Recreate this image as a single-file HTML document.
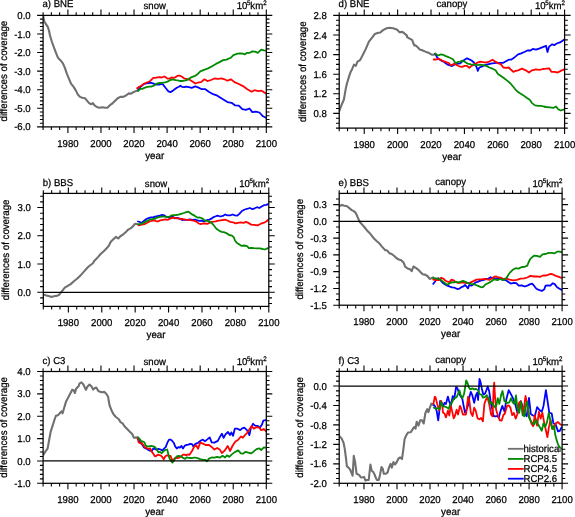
<!DOCTYPE html>
<html><head><meta charset="utf-8"><title>coverage</title>
<style>html,body{margin:0;padding:0;background:#fff;width:575px;height:517px;overflow:hidden}
svg{display:block;font-family:"Liberation Sans",sans-serif;-webkit-font-smoothing:antialiased;text-rendering:geometricPrecision}
.t{opacity:0.999}</style></head>
<body><svg width="575" height="517" viewBox="0 0 575 517">
<defs><clipPath id="cp0"><rect x="43.10" y="15.40" width="223.20" height="111.50"/></clipPath><clipPath id="cp1"><rect x="339.20" y="15.40" width="225.40" height="112.70"/></clipPath><clipPath id="cp2"><rect x="43.30" y="193.40" width="225.50" height="113.00"/></clipPath><clipPath id="cp3"><rect x="339.20" y="193.40" width="222.90" height="111.80"/></clipPath><clipPath id="cp4"><rect x="43.10" y="371.50" width="223.20" height="111.80"/></clipPath><clipPath id="cp5"><rect x="339.20" y="371.40" width="222.90" height="111.90"/></clipPath></defs>
<rect width="575" height="517" fill="#fff"/>
<g fill="#000" class="t">
<g clip-path="url(#cp0)">
<polyline fill="none" stroke="#707070" stroke-width="2.10" stroke-linejoin="round" stroke-linecap="round" points="43.3,16.3 43.4,17.5 44.3,21.5 46.1,24.4 47.8,26.8 49.0,30.8 50.1,36.0 51.9,41.8 53.6,46.5 55.3,51.1 57.1,55.7 58.2,58.1 60.6,60.4 62.9,63.3 64.8,67.7 66.9,73.9 69.0,78.8 71.0,83.7 73.8,87.1 75.9,90.6 78.0,94.8 80.1,96.9 82.2,97.8 85.0,98.3 87.0,100.6 89.1,103.1 91.2,104.2 92.9,103.1 94.3,105.2 96.8,107.0 99.6,107.7 102.3,107.3 105.1,107.7 107.6,107.6 110.0,105.2 112.8,103.1 115.6,100.3 117.7,98.3 120.4,96.9 123.2,96.9 126.0,95.5 128.8,93.4 130.9,93.7 133.7,92.0 136.4,90.9 138.2,90.3"/>
<polyline fill="none" stroke="#0000ff" stroke-width="1.80" stroke-linejoin="round" stroke-linecap="round" points="138.2,89.8 140.3,87.2 142.3,85.4 144.4,83.8 146.5,83.4 148.6,83.0 150.7,82.7 152.8,83.4 154.9,84.1 157.0,84.6 159.0,84.6 161.1,84.1 162.7,84.1 164.3,86.2 166.3,88.8 168.4,91.4 170.5,92.1 172.6,90.9 174.7,89.3 176.8,87.7 178.9,86.7 180.4,85.7 182.0,86.9 184.1,87.2 186.2,86.6 188.9,87.1 191.7,87.8 195.3,86.4 198.1,87.4 201.7,89.2 205.3,89.2 208.8,91.7 213.1,94.2 217.4,95.7 221.7,98.5 227.4,102.1 231.6,102.8 235.2,105.4 238.8,105.6 242.3,109.2 245.9,109.9 249.5,108.5 252.3,112.1 255.9,111.6 259.4,112.5 263.0,116.3 265.9,117.8"/>
<polyline fill="none" stroke="#ff0000" stroke-width="1.80" stroke-linejoin="round" stroke-linecap="round" points="137.1,88.3 139.2,86.7 141.3,85.7 143.4,84.1 145.5,83.0 148.1,82.0 150.2,81.0 151.7,79.4 153.3,77.8 155.4,77.8 157.5,77.3 159.6,77.1 161.7,77.5 164.3,76.5 165.8,77.3 167.4,78.6 169.5,78.6 171.6,77.5 173.7,77.8 175.7,77.1 177.8,75.7 179.9,75.7 182.0,76.8 184.1,78.3 186.1,79.0 188.9,79.3 192.4,81.4 195.3,83.5 198.1,82.5 201.0,82.1 204.5,79.3 207.4,81.1 211.0,80.0 214.5,78.5 218.1,78.8 221.7,78.3 224.5,79.3 227.4,80.7 230.9,79.3 234.5,82.1 238.8,84.0 243.0,86.1 247.3,89.2 251.6,91.7 254.5,90.2 258.0,91.1 261.6,90.7 265.9,93.5"/>
<polyline fill="none" stroke="#008a00" stroke-width="1.80" stroke-linejoin="round" stroke-linecap="round" points="138.2,90.9 140.3,88.8 142.3,88.8 144.4,87.9 146.5,87.2 149.1,86.7 151.7,86.5 153.8,85.7 155.4,84.6 157.5,83.4 160.1,83.0 162.7,82.7 165.3,82.3 167.4,81.7 169.5,80.4 171.6,79.6 173.7,79.6 175.7,80.1 177.8,80.4 179.9,81.0 182.0,81.0 184.1,80.7 186.1,80.4 188.6,79.1 191.0,77.4 194.6,76.2 197.4,74.3 200.3,71.4 203.3,70.1 207.5,68.6 211.7,66.5 215.9,63.9 219.5,62.1 223.2,60.1 226.6,59.6 230.7,57.8 233.4,55.1 237.5,53.7 240.2,53.3 242.9,53.7 244.9,54.4 247.0,52.8 249.7,52.8 252.4,51.4 255.1,51.7 257.8,52.8 261.2,49.7 263.9,50.3 266.0,50.6"/>
</g>
<rect x="43.10" y="15.40" width="223.20" height="111.50" fill="none" stroke="#000" stroke-width="1.25"/>
<path d="M43.10 126.90v3.20M43.10 15.40v-3.20M51.37 126.90v3.20M51.37 15.40v-3.20M59.63 126.90v3.20M59.63 15.40v-3.20M67.90 126.90v6.00M67.90 15.40v-6.00M76.17 126.90v3.20M76.17 15.40v-3.20M84.43 126.90v3.20M84.43 15.40v-3.20M92.70 126.90v3.20M92.70 15.40v-3.20M100.97 126.90v6.00M100.97 15.40v-6.00M109.23 126.90v3.20M109.23 15.40v-3.20M117.50 126.90v3.20M117.50 15.40v-3.20M125.77 126.90v3.20M125.77 15.40v-3.20M134.03 126.90v6.00M134.03 15.40v-6.00M142.30 126.90v3.20M142.30 15.40v-3.20M150.57 126.90v3.20M150.57 15.40v-3.20M158.83 126.90v3.20M158.83 15.40v-3.20M167.10 126.90v6.00M167.10 15.40v-6.00M175.37 126.90v3.20M175.37 15.40v-3.20M183.63 126.90v3.20M183.63 15.40v-3.20M191.90 126.90v3.20M191.90 15.40v-3.20M200.17 126.90v6.00M200.17 15.40v-6.00M208.43 126.90v3.20M208.43 15.40v-3.20M216.70 126.90v3.20M216.70 15.40v-3.20M224.97 126.90v3.20M224.97 15.40v-3.20M233.23 126.90v6.00M233.23 15.40v-6.00M241.50 126.90v3.20M241.50 15.40v-3.20M249.77 126.90v3.20M249.77 15.40v-3.20M258.03 126.90v3.20M258.03 15.40v-3.20M266.30 126.90v6.00M266.30 15.40v-6.00M43.10 126.90h-6.00M266.30 126.90h6.00M43.10 123.18h-3.20M266.30 123.18h3.20M43.10 119.47h-3.20M266.30 119.47h3.20M43.10 115.75h-3.20M266.30 115.75h3.20M43.10 112.03h-3.20M266.30 112.03h3.20M43.10 108.32h-6.00M266.30 108.32h6.00M43.10 104.60h-3.20M266.30 104.60h3.20M43.10 100.88h-3.20M266.30 100.88h3.20M43.10 97.17h-3.20M266.30 97.17h3.20M43.10 93.45h-3.20M266.30 93.45h3.20M43.10 89.73h-6.00M266.30 89.73h6.00M43.10 86.02h-3.20M266.30 86.02h3.20M43.10 82.30h-3.20M266.30 82.30h3.20M43.10 78.58h-3.20M266.30 78.58h3.20M43.10 74.87h-3.20M266.30 74.87h3.20M43.10 71.15h-6.00M266.30 71.15h6.00M43.10 67.43h-3.20M266.30 67.43h3.20M43.10 63.72h-3.20M266.30 63.72h3.20M43.10 60.00h-3.20M266.30 60.00h3.20M43.10 56.28h-3.20M266.30 56.28h3.20M43.10 52.57h-6.00M266.30 52.57h6.00M43.10 48.85h-3.20M266.30 48.85h3.20M43.10 45.13h-3.20M266.30 45.13h3.20M43.10 41.42h-3.20M266.30 41.42h3.20M43.10 37.70h-3.20M266.30 37.70h3.20M43.10 33.98h-6.00M266.30 33.98h6.00M43.10 30.27h-3.20M266.30 30.27h3.20M43.10 26.55h-3.20M266.30 26.55h3.20M43.10 22.83h-3.20M266.30 22.83h3.20M43.10 19.12h-3.20M266.30 19.12h3.20M43.10 15.40h-6.00M266.30 15.40h6.00" stroke="#000" stroke-width="1.10" fill="none"/>
<text transform="translate(67.90 146.90) scale(1.000 1.040)" font-size="9.60" text-anchor="middle" stroke="#000" stroke-width="0.25">1980</text>
<text transform="translate(100.97 146.90) scale(1.000 1.040)" font-size="9.60" text-anchor="middle" stroke="#000" stroke-width="0.25">2000</text>
<text transform="translate(134.03 146.90) scale(1.000 1.040)" font-size="9.60" text-anchor="middle" stroke="#000" stroke-width="0.25">2020</text>
<text transform="translate(167.10 146.90) scale(1.000 1.040)" font-size="9.60" text-anchor="middle" stroke="#000" stroke-width="0.25">2040</text>
<text transform="translate(200.17 146.90) scale(1.000 1.040)" font-size="9.60" text-anchor="middle" stroke="#000" stroke-width="0.25">2060</text>
<text transform="translate(233.23 146.90) scale(1.000 1.040)" font-size="9.60" text-anchor="middle" stroke="#000" stroke-width="0.25">2080</text>
<text transform="translate(266.30 146.90) scale(1.000 1.040)" font-size="9.60" text-anchor="middle" stroke="#000" stroke-width="0.25">2100</text>
<text transform="translate(30.70 18.98) scale(1.000 1.040)" font-size="9.60" text-anchor="end" stroke="#000" stroke-width="0.25">0.0</text>
<text transform="translate(30.70 37.56) scale(1.000 1.040)" font-size="9.60" text-anchor="end" stroke="#000" stroke-width="0.25">-1.0</text>
<text transform="translate(30.70 56.15) scale(1.000 1.040)" font-size="9.60" text-anchor="end" stroke="#000" stroke-width="0.25">-2.0</text>
<text transform="translate(30.70 74.73) scale(1.000 1.040)" font-size="9.60" text-anchor="end" stroke="#000" stroke-width="0.25">-3.0</text>
<text transform="translate(30.70 93.31) scale(1.000 1.040)" font-size="9.60" text-anchor="end" stroke="#000" stroke-width="0.25">-4.0</text>
<text transform="translate(30.70 111.90) scale(1.000 1.040)" font-size="9.60" text-anchor="end" stroke="#000" stroke-width="0.25">-5.0</text>
<text transform="translate(30.70 130.48) scale(1.000 1.040)" font-size="9.60" text-anchor="end" stroke="#000" stroke-width="0.25">-6.0</text>
<text transform="translate(42.50 6.90) scale(1.000 1.040)" font-size="9.60" stroke="#000" stroke-width="0.25">a) BNE</text>
<text transform="translate(154.70 8.80) scale(1.000 1.040)" font-size="9.60" text-anchor="middle" stroke="#000" stroke-width="0.25">snow</text>
<text transform="translate(266.60 8.90) scale(1.000 1.040)" font-size="9.60" text-anchor="end" stroke="#000" stroke-width="0.25">10<tspan font-size="6.2" dx="-0.5" dy="-3.9">5</tspan><tspan dy="3.9">km</tspan><tspan font-size="6.2" dy="-3.9">2</tspan></text>
<text transform="translate(154.70 158.70) scale(1.000 1.040)" font-size="9.80" text-anchor="middle" stroke="#000" stroke-width="0.25">year</text>
<text transform="translate(7.25 71.15) rotate(-90) scale(0.990 1.050)" font-size="9.80" text-anchor="middle" stroke="#000" stroke-width="0.25">differences of coverage</text>
<g clip-path="url(#cp1)">
<polyline fill="none" stroke="#707070" stroke-width="2.10" stroke-linejoin="round" stroke-linecap="round" points="339.4,111.0 340.1,108.8 341.2,105.9 342.4,103.0 343.9,99.5 344.7,94.9 345.9,87.9 347.0,83.3 348.8,77.4 350.5,72.2 352.3,68.7 354.0,64.7 355.8,65.8 357.5,61.7 359.3,60.6 360.3,59.7 362.5,55.5 365.7,49.1 368.9,41.7 373.1,36.3 374.8,33.9 377.5,33.0 380.3,32.5 383.0,30.1 386.7,28.3 389.5,27.8 393.1,28.3 396.8,29.6 399.6,32.3 402.3,31.9 404.2,33.2 406.9,35.6 407.1,37.1 409.7,38.7 412.3,40.2 413.3,43.3 414.4,45.4 415.4,45.2 417.5,47.0 419.6,49.4 421.7,50.1 423.8,50.9 425.9,51.9 428.0,52.5 430.0,53.6 432.1,54.8 433.7,54.8 435.3,53.6"/>
<polyline fill="none" stroke="#0000ff" stroke-width="1.80" stroke-linejoin="round" stroke-linecap="round" points="435.3,53.8 436.3,55.9 437.3,57.7 439.4,59.5 441.5,60.6 443.6,61.6 445.7,63.2 447.8,64.7 449.9,65.5 452.0,66.1 454.0,64.7 456.1,64.2 458.2,63.7 460.2,63.4 462.3,61.3 464.6,59.7 467.0,58.2 469.3,59.4 471.6,60.5 473.9,62.5 475.5,65.2 477.0,68.2 477.8,70.9 479.3,67.5 481.6,66.7 484.7,65.2 487.8,64.4 490.9,63.6 494.0,63.1 497.1,62.8 500.2,62.8 503.3,62.8 506.4,61.0 508.7,59.7 511.0,59.7 513.3,58.2 515.4,56.6 518.1,54.4 521.2,53.3 524.3,52.0 527.4,50.5 530.5,50.5 532.8,48.9 535.9,49.7 539.0,48.6 542.1,47.4 546.0,45.8 547.5,52.0 549.1,46.6 552.2,44.3 554.5,45.1 556.8,43.5 559.9,42.4 562.2,40.9 564.2,39.6"/>
<polyline fill="none" stroke="#ff0000" stroke-width="1.80" stroke-linejoin="round" stroke-linecap="round" points="433.7,59.5 436.3,59.5 438.4,58.8 440.5,59.5 442.6,60.9 444.7,61.6 446.7,62.3 448.8,63.0 450.9,65.3 452.5,64.7 454.0,63.7 456.1,64.7 458.2,65.8 460.2,66.7 462.3,66.9 464.6,65.9 467.0,65.9 469.3,67.8 471.6,65.9 473.9,64.7 477.0,62.8 480.1,61.6 483.2,62.1 486.3,62.5 489.4,61.6 492.5,59.7 494.8,61.3 497.9,63.1 501.0,64.4 503.3,67.5 506.4,67.8 508.7,67.5 511.0,69.8 513.3,71.8 515.7,70.9 518.1,70.3 522.0,68.7 525.8,70.3 528.9,72.5 532.0,70.3 535.9,69.4 539.8,69.8 542.9,69.0 546.0,68.7 549.1,68.3 551.4,71.8 554.5,71.8 557.6,72.5 560.7,70.9 564.2,69.4"/>
<polyline fill="none" stroke="#008a00" stroke-width="1.80" stroke-linejoin="round" stroke-linecap="round" points="435.3,53.6 436.8,54.8 438.9,55.3 441.0,54.3 443.1,54.8 445.2,55.9 447.8,56.9 450.4,58.0 453.0,59.2 454.6,61.9 456.1,63.0 458.2,61.9 460.2,61.6 462.3,60.7 464.6,61.8 467.7,63.6 470.8,64.4 473.9,64.7 477.0,65.2 480.1,64.7 483.2,65.2 486.3,65.9 489.4,67.5 492.5,68.7 495.6,70.3 497.9,74.0 501.0,76.0 504.1,78.3 507.2,80.6 510.3,83.2 512.6,86.0 514.9,88.8 517.3,91.5 520.4,93.5 523.5,95.4 526.6,97.7 529.7,99.7 532.0,103.1 535.1,105.4 538.2,105.9 541.3,105.9 543.6,106.5 546.0,107.0 549.8,107.4 553.7,107.8 556.0,106.5 558.3,109.3 560.7,110.5 564.2,109.3"/>
</g>
<rect x="339.20" y="15.40" width="225.40" height="112.70" fill="none" stroke="#000" stroke-width="1.25"/>
<path d="M339.20 128.10v3.20M339.20 15.40v-3.20M347.55 128.10v3.20M347.55 15.40v-3.20M355.90 128.10v3.20M355.90 15.40v-3.20M364.24 128.10v6.00M364.24 15.40v-6.00M372.59 128.10v3.20M372.59 15.40v-3.20M380.94 128.10v3.20M380.94 15.40v-3.20M389.29 128.10v3.20M389.29 15.40v-3.20M397.64 128.10v6.00M397.64 15.40v-6.00M405.99 128.10v3.20M405.99 15.40v-3.20M414.33 128.10v3.20M414.33 15.40v-3.20M422.68 128.10v3.20M422.68 15.40v-3.20M431.03 128.10v6.00M431.03 15.40v-6.00M439.38 128.10v3.20M439.38 15.40v-3.20M447.73 128.10v3.20M447.73 15.40v-3.20M456.07 128.10v3.20M456.07 15.40v-3.20M464.42 128.10v6.00M464.42 15.40v-6.00M472.77 128.10v3.20M472.77 15.40v-3.20M481.12 128.10v3.20M481.12 15.40v-3.20M489.47 128.10v3.20M489.47 15.40v-3.20M497.81 128.10v6.00M497.81 15.40v-6.00M506.16 128.10v3.20M506.16 15.40v-3.20M514.51 128.10v3.20M514.51 15.40v-3.20M522.86 128.10v3.20M522.86 15.40v-3.20M531.21 128.10v6.00M531.21 15.40v-6.00M539.56 128.10v3.20M539.56 15.40v-3.20M547.90 128.10v3.20M547.90 15.40v-3.20M556.25 128.10v3.20M556.25 15.40v-3.20M564.60 128.10v6.00M564.60 15.40v-6.00M339.20 128.10h-3.20M564.60 128.10h3.20M339.20 123.20h-3.20M564.60 123.20h3.20M339.20 118.30h-3.20M564.60 118.30h3.20M339.20 113.40h-6.00M564.60 113.40h6.00M339.20 108.50h-3.20M564.60 108.50h3.20M339.20 103.60h-3.20M564.60 103.60h3.20M339.20 98.70h-3.20M564.60 98.70h3.20M339.20 93.80h-6.00M564.60 93.80h6.00M339.20 88.90h-3.20M564.60 88.90h3.20M339.20 84.00h-3.20M564.60 84.00h3.20M339.20 79.10h-3.20M564.60 79.10h3.20M339.20 74.20h-6.00M564.60 74.20h6.00M339.20 69.30h-3.20M564.60 69.30h3.20M339.20 64.40h-3.20M564.60 64.40h3.20M339.20 59.50h-3.20M564.60 59.50h3.20M339.20 54.60h-6.00M564.60 54.60h6.00M339.20 49.70h-3.20M564.60 49.70h3.20M339.20 44.80h-3.20M564.60 44.80h3.20M339.20 39.90h-3.20M564.60 39.90h3.20M339.20 35.00h-6.00M564.60 35.00h6.00M339.20 30.10h-3.20M564.60 30.10h3.20M339.20 25.20h-3.20M564.60 25.20h3.20M339.20 20.30h-3.20M564.60 20.30h3.20M339.20 15.40h-6.00M564.60 15.40h6.00" stroke="#000" stroke-width="1.10" fill="none"/>
<text transform="translate(364.24 148.10) scale(1.000 1.040)" font-size="9.60" text-anchor="middle" stroke="#000" stroke-width="0.25">1980</text>
<text transform="translate(397.64 148.10) scale(1.000 1.040)" font-size="9.60" text-anchor="middle" stroke="#000" stroke-width="0.25">2000</text>
<text transform="translate(431.03 148.10) scale(1.000 1.040)" font-size="9.60" text-anchor="middle" stroke="#000" stroke-width="0.25">2020</text>
<text transform="translate(464.42 148.10) scale(1.000 1.040)" font-size="9.60" text-anchor="middle" stroke="#000" stroke-width="0.25">2040</text>
<text transform="translate(497.81 148.10) scale(1.000 1.040)" font-size="9.60" text-anchor="middle" stroke="#000" stroke-width="0.25">2060</text>
<text transform="translate(531.21 148.10) scale(1.000 1.040)" font-size="9.60" text-anchor="middle" stroke="#000" stroke-width="0.25">2080</text>
<text transform="translate(564.60 148.10) scale(1.000 1.040)" font-size="9.60" text-anchor="middle" stroke="#000" stroke-width="0.25">2100</text>
<text transform="translate(326.80 18.98) scale(1.000 1.040)" font-size="9.60" text-anchor="end" stroke="#000" stroke-width="0.25">2.8</text>
<text transform="translate(326.80 38.58) scale(1.000 1.040)" font-size="9.60" text-anchor="end" stroke="#000" stroke-width="0.25">2.4</text>
<text transform="translate(326.80 58.18) scale(1.000 1.040)" font-size="9.60" text-anchor="end" stroke="#000" stroke-width="0.25">2.0</text>
<text transform="translate(326.80 77.78) scale(1.000 1.040)" font-size="9.60" text-anchor="end" stroke="#000" stroke-width="0.25">1.6</text>
<text transform="translate(326.80 97.38) scale(1.000 1.040)" font-size="9.60" text-anchor="end" stroke="#000" stroke-width="0.25">1.2</text>
<text transform="translate(326.80 116.98) scale(1.000 1.040)" font-size="9.60" text-anchor="end" stroke="#000" stroke-width="0.25">0.8</text>
<text transform="translate(338.60 6.90) scale(1.000 1.040)" font-size="9.60" stroke="#000" stroke-width="0.25">d) BNE</text>
<text transform="translate(451.90 7.00) scale(1.000 1.040)" font-size="9.60" text-anchor="middle" stroke="#000" stroke-width="0.25">canopy</text>
<text transform="translate(564.90 8.90) scale(1.000 1.040)" font-size="9.60" text-anchor="end" stroke="#000" stroke-width="0.25">10<tspan font-size="6.2" dx="-0.5" dy="-3.9">5</tspan><tspan dy="3.9">km</tspan><tspan font-size="6.2" dy="-3.9">2</tspan></text>
<text transform="translate(451.90 159.90) scale(1.000 1.040)" font-size="9.80" text-anchor="middle" stroke="#000" stroke-width="0.25">year</text>
<text transform="translate(305.90 71.75) rotate(-90) scale(0.990 1.050)" font-size="9.80" text-anchor="middle" stroke="#000" stroke-width="0.25">differences of coverage</text>
<g clip-path="url(#cp2)">
<polyline fill="none" stroke="#707070" stroke-width="2.10" stroke-linejoin="round" stroke-linecap="round" points="43.5,294.4 46.4,295.4 49.4,296.2 51.6,296.9 53.8,296.2 56.7,295.9 58.9,295.0 60.4,293.2 62.6,290.3 64.8,287.6 67.7,285.9 70.7,284.1 73.6,281.5 77.3,278.5 81.0,274.9 84.6,270.9 87.6,267.5 90.5,265.0 92.7,263.5 94.2,260.9 96.4,258.7 98.4,256.6 100.6,254.0 102.6,252.2 105.0,249.9 107.3,247.6 109.0,245.3 110.8,241.8 113.1,239.5 116.0,236.9 118.3,238.5 120.6,236.0 123.0,234.6 125.9,231.9 128.2,229.6 130.5,228.4 132.8,226.5 134.9,223.8 136.9,224.1 138.6,224.6"/>
<polyline fill="none" stroke="#0000ff" stroke-width="1.80" stroke-linejoin="round" stroke-linecap="round" points="138.0,221.5 139.8,222.0 141.5,223.0 143.3,221.5 145.6,219.5 147.9,218.3 150.8,217.4 153.7,217.2 156.0,216.3 157.1,216.2 159.7,215.7 162.3,214.8 164.4,215.4 166.5,216.9 168.6,217.5 170.7,216.9 172.7,216.7 174.8,218.3 177.4,217.9 180.0,218.8 182.1,220.0 184.7,219.6 187.3,219.8 190.0,219.3 192.6,219.8 195.2,219.6 197.3,220.3 199.3,220.9 201.4,220.7 203.5,221.4 205.1,220.9 207.2,220.0 209.5,219.6 211.8,218.4 213.6,217.1 215.2,216.5 217.5,215.7 220.4,216.5 222.8,215.9 225.1,214.5 227.4,215.3 230.3,215.3 232.6,214.5 235.0,215.3 237.3,215.7 239.6,213.6 241.9,211.0 244.8,209.5 247.7,208.7 250.0,208.0 252.4,209.2 254.7,208.3 257.0,207.2 259.3,208.0 261.6,206.6 264.0,205.2 266.3,204.9 268.0,204.1"/>
<polyline fill="none" stroke="#ff0000" stroke-width="1.80" stroke-linejoin="round" stroke-linecap="round" points="138.6,225.3 141.5,224.6 144.4,224.1 146.7,223.0 149.6,221.5 152.5,220.7 154.9,220.3 156.6,221.4 158.1,221.4 160.2,220.3 162.8,219.8 165.4,219.3 168.0,219.8 170.1,218.6 172.2,217.9 174.3,217.7 176.9,218.3 179.5,218.6 182.1,219.0 184.7,219.6 187.3,219.8 190.0,219.8 192.0,220.3 194.7,220.9 196.7,221.9 198.8,223.5 200.9,224.2 203.0,223.5 205.1,223.5 207.2,223.8 209.5,222.8 211.5,221.9 213.6,221.7 215.5,221.3 217.5,220.8 220.4,220.3 222.8,220.0 225.1,219.6 227.4,220.5 230.3,221.9 233.2,222.3 235.5,223.4 237.9,222.9 240.8,222.3 243.7,222.9 246.0,221.9 248.3,222.9 251.2,224.6 253.5,224.9 255.8,225.2 257.6,225.4 259.9,224.2 262.2,223.1 264.5,222.6 266.3,221.5 268.0,220.0"/>
<polyline fill="none" stroke="#008a00" stroke-width="1.80" stroke-linejoin="round" stroke-linecap="round" points="138.6,224.4 140.9,223.8 143.8,222.6 146.7,221.1 149.6,219.7 152.5,219.1 155.0,218.6 157.1,217.7 159.7,216.9 162.3,216.5 164.9,216.7 167.5,217.2 169.6,216.5 171.7,215.4 173.8,215.1 175.9,215.1 178.5,214.6 181.1,213.8 183.7,213.0 185.8,212.3 187.9,211.7 189.4,212.3 191.5,214.1 193.6,215.1 195.7,216.5 197.8,217.7 199.9,217.5 202.0,218.3 204.0,219.8 205.6,220.9 207.7,220.9 209.5,221.9 211.7,222.9 214.1,225.8 216.4,228.7 219.3,230.7 221.6,231.9 223.9,232.1 226.8,233.3 229.1,235.0 232.0,235.6 233.8,237.4 235.0,240.5 236.7,242.8 239.0,244.3 241.3,245.8 244.2,245.5 247.1,246.1 248.9,248.2 251.2,247.8 254.1,248.2 257.0,248.4 259.9,248.4 262.8,249.0 264.5,249.5 266.9,248.6 268.0,248.2"/>
<line x1="43.30" y1="292.27" x2="268.80" y2="292.27" stroke="#000" stroke-width="1.25"/>
</g>
<rect x="43.30" y="193.40" width="225.50" height="113.00" fill="none" stroke="#000" stroke-width="1.25"/>
<path d="M43.30 306.40v3.20M43.30 193.40v-3.20M51.65 306.40v3.20M51.65 193.40v-3.20M60.00 306.40v3.20M60.00 193.40v-3.20M68.36 306.40v6.00M68.36 193.40v-6.00M76.71 306.40v3.20M76.71 193.40v-3.20M85.06 306.40v3.20M85.06 193.40v-3.20M93.41 306.40v3.20M93.41 193.40v-3.20M101.76 306.40v6.00M101.76 193.40v-6.00M110.11 306.40v3.20M110.11 193.40v-3.20M118.47 306.40v3.20M118.47 193.40v-3.20M126.82 306.40v3.20M126.82 193.40v-3.20M135.17 306.40v6.00M135.17 193.40v-6.00M143.52 306.40v3.20M143.52 193.40v-3.20M151.87 306.40v3.20M151.87 193.40v-3.20M160.23 306.40v3.20M160.23 193.40v-3.20M168.58 306.40v6.00M168.58 193.40v-6.00M176.93 306.40v3.20M176.93 193.40v-3.20M185.28 306.40v3.20M185.28 193.40v-3.20M193.63 306.40v3.20M193.63 193.40v-3.20M201.99 306.40v6.00M201.99 193.40v-6.00M210.34 306.40v3.20M210.34 193.40v-3.20M218.69 306.40v3.20M218.69 193.40v-3.20M227.04 306.40v3.20M227.04 193.40v-3.20M235.39 306.40v6.00M235.39 193.40v-6.00M243.74 306.40v3.20M243.74 193.40v-3.20M252.10 306.40v3.20M252.10 193.40v-3.20M260.45 306.40v3.20M260.45 193.40v-3.20M268.80 306.40v6.00M268.80 193.40v-6.00M43.30 303.57h-3.20M268.80 303.57h3.20M43.30 297.92h-3.20M268.80 297.92h3.20M43.30 292.27h-6.00M268.80 292.27h6.00M43.30 286.62h-3.20M268.80 286.62h3.20M43.30 280.97h-3.20M268.80 280.97h3.20M43.30 275.32h-3.20M268.80 275.32h3.20M43.30 269.67h-3.20M268.80 269.67h3.20M43.30 264.02h-6.00M268.80 264.02h6.00M43.30 258.38h-3.20M268.80 258.38h3.20M43.30 252.72h-3.20M268.80 252.72h3.20M43.30 247.07h-3.20M268.80 247.07h3.20M43.30 241.43h-3.20M268.80 241.43h3.20M43.30 235.77h-6.00M268.80 235.77h6.00M43.30 230.12h-3.20M268.80 230.12h3.20M43.30 224.47h-3.20M268.80 224.47h3.20M43.30 218.82h-3.20M268.80 218.82h3.20M43.30 213.18h-3.20M268.80 213.18h3.20M43.30 207.53h-6.00M268.80 207.53h6.00M43.30 201.88h-3.20M268.80 201.88h3.20M43.30 196.23h-3.20M268.80 196.23h3.20" stroke="#000" stroke-width="1.10" fill="none"/>
<text transform="translate(68.36 326.40) scale(1.000 1.040)" font-size="9.60" text-anchor="middle" stroke="#000" stroke-width="0.25">1980</text>
<text transform="translate(101.76 326.40) scale(1.000 1.040)" font-size="9.60" text-anchor="middle" stroke="#000" stroke-width="0.25">2000</text>
<text transform="translate(135.17 326.40) scale(1.000 1.040)" font-size="9.60" text-anchor="middle" stroke="#000" stroke-width="0.25">2020</text>
<text transform="translate(168.58 326.40) scale(1.000 1.040)" font-size="9.60" text-anchor="middle" stroke="#000" stroke-width="0.25">2040</text>
<text transform="translate(201.99 326.40) scale(1.000 1.040)" font-size="9.60" text-anchor="middle" stroke="#000" stroke-width="0.25">2060</text>
<text transform="translate(235.39 326.40) scale(1.000 1.040)" font-size="9.60" text-anchor="middle" stroke="#000" stroke-width="0.25">2080</text>
<text transform="translate(268.80 326.40) scale(1.000 1.040)" font-size="9.60" text-anchor="middle" stroke="#000" stroke-width="0.25">2100</text>
<text transform="translate(30.90 211.11) scale(1.000 1.040)" font-size="9.60" text-anchor="end" stroke="#000" stroke-width="0.25">3.0</text>
<text transform="translate(30.90 239.35) scale(1.000 1.040)" font-size="9.60" text-anchor="end" stroke="#000" stroke-width="0.25">2.0</text>
<text transform="translate(30.90 267.60) scale(1.000 1.040)" font-size="9.60" text-anchor="end" stroke="#000" stroke-width="0.25">1.0</text>
<text transform="translate(30.90 295.85) scale(1.000 1.040)" font-size="9.60" text-anchor="end" stroke="#000" stroke-width="0.25">0.0</text>
<text transform="translate(42.70 185.70) scale(1.000 1.040)" font-size="9.60" stroke="#000" stroke-width="0.25">b) BBS</text>
<text transform="translate(156.05 187.10) scale(1.000 1.040)" font-size="9.60" text-anchor="middle" stroke="#000" stroke-width="0.25">snow</text>
<text transform="translate(269.10 186.80) scale(1.000 1.040)" font-size="9.60" text-anchor="end" stroke="#000" stroke-width="0.25">10<tspan font-size="6.2" dx="-0.5" dy="-3.9">5</tspan><tspan dy="3.9">km</tspan><tspan font-size="6.2" dy="-3.9">2</tspan></text>
<text transform="translate(156.05 338.20) scale(1.000 1.040)" font-size="9.80" text-anchor="middle" stroke="#000" stroke-width="0.25">year</text>
<text transform="translate(9.30 249.90) rotate(-90) scale(0.990 1.050)" font-size="9.80" text-anchor="middle" stroke="#000" stroke-width="0.25">differences of coverage</text>
<g clip-path="url(#cp3)">
<polyline fill="none" stroke="#707070" stroke-width="2.10" stroke-linejoin="round" stroke-linecap="round" points="339.7,206.0 342.1,204.9 344.4,205.7 346.7,206.0 349.0,207.8 351.3,209.9 353.7,211.2 355.4,212.4 356.6,214.7 357.7,217.3 358.9,220.0 360.0,222.3 362.4,224.9 364.7,227.5 367.0,230.4 369.3,232.7 371.7,235.6 374.0,238.5 376.3,240.8 379.2,243.2 381.5,246.1 383.8,248.6 385.3,250.2 387.0,250.3 389.4,253.2 391.7,254.0 394.3,256.0 396.6,258.3 398.9,259.5 401.2,260.3 403.6,262.6 405.3,266.9 407.6,268.4 410.0,269.2 411.7,271.1 413.4,266.5 415.8,267.9 418.1,269.6 420.4,271.9 422.7,274.2 425.0,274.6 427.4,276.0 429.7,278.9 431.4,278.3 433.2,277.4"/>
<polyline fill="none" stroke="#0000ff" stroke-width="1.80" stroke-linejoin="round" stroke-linecap="round" points="433.2,283.9 434.9,281.8 436.6,279.5 438.4,278.1 440.1,280.0 442.1,282.2 444.7,284.2 447.3,285.6 449.9,286.6 452.0,287.3 454.6,287.7 457.2,289.0 459.3,288.7 461.4,287.1 463.5,286.3 465.0,285.0 466.6,286.6 468.0,288.4 469.2,285.0 471.3,285.6 473.4,284.5 475.5,282.4 477.6,281.9 479.7,280.9 481.7,280.3 483.8,279.8 486.4,278.8 488.5,278.6 490.6,277.2 492.7,278.6 494.3,278.3 497.4,278.7 499.9,279.0 502.9,279.9 506.0,280.2 508.4,282.0 510.8,283.6 513.9,282.9 516.3,283.2 518.7,285.7 521.8,285.3 524.8,286.5 527.3,285.7 529.7,284.4 532.1,283.6 534.0,285.7 536.4,288.7 538.8,289.9 541.9,290.9 544.3,289.3 545.5,285.7 548.0,285.3 550.4,285.7 552.8,283.2 554.7,284.1 557.1,287.2 559.5,288.7 561.7,289.9"/>
<polyline fill="none" stroke="#ff0000" stroke-width="1.80" stroke-linejoin="round" stroke-linecap="round" points="433.2,279.5 436.1,280.0 439.0,280.0 441.3,277.7 443.6,278.9 445.0,280.3 447.3,281.7 449.4,282.1 451.5,279.6 453.6,280.3 455.7,282.1 458.3,283.0 460.9,282.7 463.5,282.4 466.1,283.0 468.7,283.2 471.3,282.1 473.9,280.9 476.5,279.6 479.1,279.3 481.7,279.3 484.3,278.8 487.0,279.3 489.6,279.8 492.2,278.3 494.3,276.7 496.3,276.5 498.4,277.5 500.5,277.7 503.5,279.0 506.6,278.7 509.6,279.6 513.3,280.4 516.9,279.9 520.6,278.7 524.2,278.3 527.3,277.5 530.3,275.9 534.0,276.5 537.0,276.3 540.0,276.8 543.1,275.5 546.1,275.5 548.6,274.7 551.0,273.8 553.4,274.7 555.9,275.9 558.9,276.8 561.7,278.0"/>
<polyline fill="none" stroke="#008a00" stroke-width="1.80" stroke-linejoin="round" stroke-linecap="round" points="433.2,278.1 436.1,278.3 439.0,279.2 440.0,279.3 442.1,280.9 444.7,283.0 447.3,284.8 449.4,283.5 452.0,282.1 454.1,282.4 456.2,281.9 458.3,282.4 460.3,281.9 463.0,280.9 465.6,281.9 468.2,283.2 470.8,283.8 473.4,284.2 476.0,285.0 478.6,286.1 481.2,287.3 483.3,286.9 485.4,284.5 488.0,283.2 490.6,281.9 492.7,280.3 494.8,279.3 497.4,280.2 500.5,279.0 503.5,280.2 506.6,277.7 508.4,274.7 510.2,272.3 512.7,269.8 515.7,268.2 518.7,268.6 521.8,267.0 524.8,266.8 527.3,265.6 528.5,262.5 530.3,258.9 534.0,255.6 537.0,255.8 540.0,256.8 542.5,254.4 545.5,254.0 548.6,252.8 551.6,252.8 554.7,253.4 557.1,251.6 559.5,251.6 561.7,252.2"/>
<line x1="339.20" y1="221.35" x2="562.10" y2="221.35" stroke="#000" stroke-width="1.25"/>
</g>
<rect x="339.20" y="193.40" width="222.90" height="111.80" fill="none" stroke="#000" stroke-width="1.25"/>
<path d="M339.20 305.20v3.20M339.20 193.40v-3.20M347.46 305.20v3.20M347.46 193.40v-3.20M355.71 305.20v3.20M355.71 193.40v-3.20M363.97 305.20v6.00M363.97 193.40v-6.00M372.22 305.20v3.20M372.22 193.40v-3.20M380.48 305.20v3.20M380.48 193.40v-3.20M388.73 305.20v3.20M388.73 193.40v-3.20M396.99 305.20v6.00M396.99 193.40v-6.00M405.24 305.20v3.20M405.24 193.40v-3.20M413.50 305.20v3.20M413.50 193.40v-3.20M421.76 305.20v3.20M421.76 193.40v-3.20M430.01 305.20v6.00M430.01 193.40v-6.00M438.27 305.20v3.20M438.27 193.40v-3.20M446.52 305.20v3.20M446.52 193.40v-3.20M454.78 305.20v3.20M454.78 193.40v-3.20M463.03 305.20v6.00M463.03 193.40v-6.00M471.29 305.20v3.20M471.29 193.40v-3.20M479.54 305.20v3.20M479.54 193.40v-3.20M487.80 305.20v3.20M487.80 193.40v-3.20M496.06 305.20v6.00M496.06 193.40v-6.00M504.31 305.20v3.20M504.31 193.40v-3.20M512.57 305.20v3.20M512.57 193.40v-3.20M520.82 305.20v3.20M520.82 193.40v-3.20M529.08 305.20v6.00M529.08 193.40v-6.00M537.33 305.20v3.20M537.33 193.40v-3.20M545.59 305.20v3.20M545.59 193.40v-3.20M553.84 305.20v3.20M553.84 193.40v-3.20M562.10 305.20v6.00M562.10 193.40v-6.00M339.20 305.20h-6.00M562.10 305.20h6.00M339.20 299.61h-3.20M562.10 299.61h3.20M339.20 294.02h-3.20M562.10 294.02h3.20M339.20 288.43h-6.00M562.10 288.43h6.00M339.20 282.84h-3.20M562.10 282.84h3.20M339.20 277.25h-3.20M562.10 277.25h3.20M339.20 271.66h-6.00M562.10 271.66h6.00M339.20 266.07h-3.20M562.10 266.07h3.20M339.20 260.48h-3.20M562.10 260.48h3.20M339.20 254.89h-6.00M562.10 254.89h6.00M339.20 249.30h-3.20M562.10 249.30h3.20M339.20 243.71h-3.20M562.10 243.71h3.20M339.20 238.12h-6.00M562.10 238.12h6.00M339.20 232.53h-3.20M562.10 232.53h3.20M339.20 226.94h-3.20M562.10 226.94h3.20M339.20 221.35h-6.00M562.10 221.35h6.00M339.20 215.76h-3.20M562.10 215.76h3.20M339.20 210.17h-3.20M562.10 210.17h3.20M339.20 204.58h-6.00M562.10 204.58h6.00M339.20 198.99h-3.20M562.10 198.99h3.20" stroke="#000" stroke-width="1.10" fill="none"/>
<text transform="translate(363.97 325.20) scale(1.000 1.040)" font-size="9.60" text-anchor="middle" stroke="#000" stroke-width="0.25">1980</text>
<text transform="translate(396.99 325.20) scale(1.000 1.040)" font-size="9.60" text-anchor="middle" stroke="#000" stroke-width="0.25">2000</text>
<text transform="translate(430.01 325.20) scale(1.000 1.040)" font-size="9.60" text-anchor="middle" stroke="#000" stroke-width="0.25">2020</text>
<text transform="translate(463.03 325.20) scale(1.000 1.040)" font-size="9.60" text-anchor="middle" stroke="#000" stroke-width="0.25">2040</text>
<text transform="translate(496.06 325.20) scale(1.000 1.040)" font-size="9.60" text-anchor="middle" stroke="#000" stroke-width="0.25">2060</text>
<text transform="translate(529.08 325.20) scale(1.000 1.040)" font-size="9.60" text-anchor="middle" stroke="#000" stroke-width="0.25">2080</text>
<text transform="translate(562.10 325.20) scale(1.000 1.040)" font-size="9.60" text-anchor="middle" stroke="#000" stroke-width="0.25">2100</text>
<text transform="translate(326.80 208.16) scale(1.000 1.040)" font-size="9.60" text-anchor="end" stroke="#000" stroke-width="0.25">0.3</text>
<text transform="translate(326.80 224.93) scale(1.000 1.040)" font-size="9.60" text-anchor="end" stroke="#000" stroke-width="0.25">0.0</text>
<text transform="translate(326.80 241.70) scale(1.000 1.040)" font-size="9.60" text-anchor="end" stroke="#000" stroke-width="0.25">-0.3</text>
<text transform="translate(326.80 258.47) scale(1.000 1.040)" font-size="9.60" text-anchor="end" stroke="#000" stroke-width="0.25">-0.6</text>
<text transform="translate(326.80 275.24) scale(1.000 1.040)" font-size="9.60" text-anchor="end" stroke="#000" stroke-width="0.25">-0.9</text>
<text transform="translate(326.80 292.01) scale(1.000 1.040)" font-size="9.60" text-anchor="end" stroke="#000" stroke-width="0.25">-1.2</text>
<text transform="translate(326.80 308.78) scale(1.000 1.040)" font-size="9.60" text-anchor="end" stroke="#000" stroke-width="0.25">-1.5</text>
<text transform="translate(338.60 185.70) scale(1.000 1.040)" font-size="9.60" stroke="#000" stroke-width="0.25">e) BBS</text>
<text transform="translate(450.65 185.20) scale(1.000 1.040)" font-size="9.60" text-anchor="middle" stroke="#000" stroke-width="0.25">canopy</text>
<text transform="translate(562.40 186.80) scale(1.000 1.040)" font-size="9.60" text-anchor="end" stroke="#000" stroke-width="0.25">10<tspan font-size="6.2" dx="-0.5" dy="-3.9">5</tspan><tspan dy="3.9">km</tspan><tspan font-size="6.2" dy="-3.9">2</tspan></text>
<text transform="translate(450.65 337.00) scale(1.000 1.040)" font-size="9.80" text-anchor="middle" stroke="#000" stroke-width="0.25">year</text>
<text transform="translate(302.70 249.30) rotate(-90) scale(0.990 1.050)" font-size="9.80" text-anchor="middle" stroke="#000" stroke-width="0.25">differences of coverage</text>
<g clip-path="url(#cp4)">
<polyline fill="none" stroke="#707070" stroke-width="2.10" stroke-linejoin="round" stroke-linecap="round" points="43.6,454.3 45.5,451.4 47.6,448.6 49.1,440.3 50.7,431.6 52.8,425.2 54.4,420.0 56.0,415.7 57.9,415.2 59.8,413.3 61.4,411.4 62.6,413.3 64.2,407.8 66.1,401.4 68.2,397.5 70.3,393.5 72.2,389.8 73.7,390.3 74.9,393.0 76.1,388.7 78.5,386.3 79.6,383.4 81.4,382.4 83.4,384.5 85.9,389.9 87.5,386.5 89.5,384.5 91.5,386.5 93.2,389.6 94.9,387.9 96.3,387.5 98.3,391.0 100.3,391.9 102.4,392.3 104.4,391.9 106.4,394.0 108.1,396.7 108.9,402.1 109.8,406.2 111.6,410.5 113.5,414.3 115.9,417.0 118.6,419.0 120.7,422.4 122.4,423.1 124.7,426.5 127.4,429.2 130.1,431.9 132.2,433.9 133.8,437.6 135.6,437.6 137.6,437.3"/>
<polyline fill="none" stroke="#0000ff" stroke-width="1.80" stroke-linejoin="round" stroke-linecap="round" points="137.7,438.6 139.2,440.7 140.8,442.7 142.3,444.8 143.9,447.4 146.0,448.5 147.6,449.5 149.7,450.6 151.7,450.9 153.3,448.5 154.9,448.8 156.4,449.8 158.5,448.8 160.6,449.5 162.2,450.6 164.3,448.5 165.8,446.9 167.4,442.7 169.0,439.6 170.5,439.6 172.1,440.7 173.7,442.7 175.2,446.4 176.8,448.5 178.3,447.1 179.9,447.7 181.5,445.9 183.0,448.5 184.6,445.9 186.2,445.0 188.3,444.6 190.3,443.8 192.0,444.2 193.4,446.4 195.4,443.9 198.1,442.8 200.9,440.5 202.9,439.6 204.9,441.2 207.0,439.6 209.7,437.4 211.7,442.3 214.4,442.6 217.8,440.9 219.8,437.1 221.9,433.7 223.6,437.8 225.5,434.4 228.0,432.0 230.0,435.1 231.4,432.4 233.1,435.8 234.8,428.7 237.5,428.7 240.2,430.1 242.2,428.3 244.3,427.6 247.0,430.1 249.4,435.1 251.0,427.6 253.1,423.8 255.1,425.6 257.8,426.0 259.9,427.6 261.9,424.7 263.3,420.6 265.3,420.2"/>
<polyline fill="none" stroke="#ff0000" stroke-width="1.80" stroke-linejoin="round" stroke-linecap="round" points="137.7,438.6 138.7,442.5 140.3,443.3 141.8,443.0 143.4,445.3 145.0,447.4 146.5,448.0 148.6,448.8 150.2,448.5 151.7,451.6 153.3,453.7 154.9,456.3 156.4,455.8 158.0,454.7 160.1,455.3 161.7,456.3 163.7,459.2 165.3,456.3 167.2,455.3 169.0,455.8 170.5,455.8 172.1,460.0 173.7,459.4 175.2,457.9 177.3,458.2 179.4,457.6 181.5,456.3 183.0,454.7 184.6,454.7 186.2,455.3 187.7,454.4 189.5,454.8 192.0,451.0 194.1,446.9 196.1,445.3 198.1,448.7 200.2,442.6 202.9,443.6 205.6,445.0 209.0,445.0 211.7,446.9 214.4,449.6 217.1,448.0 219.8,449.6 221.9,453.1 224.6,450.7 227.7,445.9 230.0,451.0 232.7,445.5 235.4,441.5 238.2,439.8 240.9,436.5 242.9,437.8 244.9,435.1 247.0,433.1 249.7,429.0 251.7,426.0 253.8,428.7 256.5,427.0 259.2,427.6 261.2,430.1 263.9,429.0 265.7,431.0"/>
<polyline fill="none" stroke="#008a00" stroke-width="1.80" stroke-linejoin="round" stroke-linecap="round" points="138.2,437.5 139.7,439.1 141.3,441.2 142.9,441.5 144.4,442.2 145.5,445.3 147.0,446.4 149.1,446.4 151.2,445.9 153.3,446.4 155.4,447.4 157.0,450.0 158.5,452.3 160.1,451.9 161.7,453.2 163.2,451.6 165.3,450.0 167.2,449.5 168.4,454.2 169.5,458.4 171.0,461.0 172.4,462.6 173.7,461.0 175.2,458.4 176.8,456.3 178.9,455.8 181.0,456.3 183.0,457.9 185.1,458.9 186.7,457.3 188.8,457.9 190.5,458.0 192.0,458.2 194.7,457.5 197.5,458.2 200.2,459.1 202.9,459.9 205.6,459.9 207.0,461.3 209.0,458.6 211.7,457.5 214.4,457.7 217.1,456.8 219.8,457.7 222.6,455.8 225.0,457.5 226.9,455.4 229.3,456.8 232.1,454.1 234.8,452.1 238.2,450.4 240.9,453.4 242.9,453.7 245.6,451.8 248.3,452.7 251.0,453.4 253.8,451.4 256.5,449.1 259.2,448.3 261.2,450.0 263.9,447.3 265.7,447.7"/>
<line x1="43.10" y1="460.94" x2="266.30" y2="460.94" stroke="#000" stroke-width="1.25"/>
</g>
<rect x="43.10" y="371.50" width="223.20" height="111.80" fill="none" stroke="#000" stroke-width="1.25"/>
<path d="M43.10 483.30v3.20M43.10 371.50v-3.20M51.37 483.30v3.20M51.37 371.50v-3.20M59.63 483.30v3.20M59.63 371.50v-3.20M67.90 483.30v6.00M67.90 371.50v-6.00M76.17 483.30v3.20M76.17 371.50v-3.20M84.43 483.30v3.20M84.43 371.50v-3.20M92.70 483.30v3.20M92.70 371.50v-3.20M100.97 483.30v6.00M100.97 371.50v-6.00M109.23 483.30v3.20M109.23 371.50v-3.20M117.50 483.30v3.20M117.50 371.50v-3.20M125.77 483.30v3.20M125.77 371.50v-3.20M134.03 483.30v6.00M134.03 371.50v-6.00M142.30 483.30v3.20M142.30 371.50v-3.20M150.57 483.30v3.20M150.57 371.50v-3.20M158.83 483.30v3.20M158.83 371.50v-3.20M167.10 483.30v6.00M167.10 371.50v-6.00M175.37 483.30v3.20M175.37 371.50v-3.20M183.63 483.30v3.20M183.63 371.50v-3.20M191.90 483.30v3.20M191.90 371.50v-3.20M200.17 483.30v6.00M200.17 371.50v-6.00M208.43 483.30v3.20M208.43 371.50v-3.20M216.70 483.30v3.20M216.70 371.50v-3.20M224.97 483.30v3.20M224.97 371.50v-3.20M233.23 483.30v6.00M233.23 371.50v-6.00M241.50 483.30v3.20M241.50 371.50v-3.20M249.77 483.30v3.20M249.77 371.50v-3.20M258.03 483.30v3.20M258.03 371.50v-3.20M266.30 483.30v6.00M266.30 371.50v-6.00M43.10 483.30h-6.00M266.30 483.30h6.00M43.10 478.83h-3.20M266.30 478.83h3.20M43.10 474.36h-3.20M266.30 474.36h3.20M43.10 469.88h-3.20M266.30 469.88h3.20M43.10 465.41h-3.20M266.30 465.41h3.20M43.10 460.94h-6.00M266.30 460.94h6.00M43.10 456.47h-3.20M266.30 456.47h3.20M43.10 452.00h-3.20M266.30 452.00h3.20M43.10 447.52h-3.20M266.30 447.52h3.20M43.10 443.05h-3.20M266.30 443.05h3.20M43.10 438.58h-6.00M266.30 438.58h6.00M43.10 434.11h-3.20M266.30 434.11h3.20M43.10 429.64h-3.20M266.30 429.64h3.20M43.10 425.16h-3.20M266.30 425.16h3.20M43.10 420.69h-3.20M266.30 420.69h3.20M43.10 416.22h-6.00M266.30 416.22h6.00M43.10 411.75h-3.20M266.30 411.75h3.20M43.10 407.28h-3.20M266.30 407.28h3.20M43.10 402.80h-3.20M266.30 402.80h3.20M43.10 398.33h-3.20M266.30 398.33h3.20M43.10 393.86h-6.00M266.30 393.86h6.00M43.10 389.39h-3.20M266.30 389.39h3.20M43.10 384.92h-3.20M266.30 384.92h3.20M43.10 380.44h-3.20M266.30 380.44h3.20M43.10 375.97h-3.20M266.30 375.97h3.20M43.10 371.50h-6.00M266.30 371.50h6.00" stroke="#000" stroke-width="1.10" fill="none"/>
<text transform="translate(67.90 503.30) scale(1.000 1.040)" font-size="9.60" text-anchor="middle" stroke="#000" stroke-width="0.25">1980</text>
<text transform="translate(100.97 503.30) scale(1.000 1.040)" font-size="9.60" text-anchor="middle" stroke="#000" stroke-width="0.25">2000</text>
<text transform="translate(134.03 503.30) scale(1.000 1.040)" font-size="9.60" text-anchor="middle" stroke="#000" stroke-width="0.25">2020</text>
<text transform="translate(167.10 503.30) scale(1.000 1.040)" font-size="9.60" text-anchor="middle" stroke="#000" stroke-width="0.25">2040</text>
<text transform="translate(200.17 503.30) scale(1.000 1.040)" font-size="9.60" text-anchor="middle" stroke="#000" stroke-width="0.25">2060</text>
<text transform="translate(233.23 503.30) scale(1.000 1.040)" font-size="9.60" text-anchor="middle" stroke="#000" stroke-width="0.25">2080</text>
<text transform="translate(266.30 503.30) scale(1.000 1.040)" font-size="9.60" text-anchor="middle" stroke="#000" stroke-width="0.25">2100</text>
<text transform="translate(30.70 375.08) scale(1.000 1.040)" font-size="9.60" text-anchor="end" stroke="#000" stroke-width="0.25">4.0</text>
<text transform="translate(30.70 397.44) scale(1.000 1.040)" font-size="9.60" text-anchor="end" stroke="#000" stroke-width="0.25">3.0</text>
<text transform="translate(30.70 419.80) scale(1.000 1.040)" font-size="9.60" text-anchor="end" stroke="#000" stroke-width="0.25">2.0</text>
<text transform="translate(30.70 442.16) scale(1.000 1.040)" font-size="9.60" text-anchor="end" stroke="#000" stroke-width="0.25">1.0</text>
<text transform="translate(30.70 464.52) scale(1.000 1.040)" font-size="9.60" text-anchor="end" stroke="#000" stroke-width="0.25">0.0</text>
<text transform="translate(30.70 486.88) scale(1.000 1.040)" font-size="9.60" text-anchor="end" stroke="#000" stroke-width="0.25">-1.0</text>
<text transform="translate(42.50 363.60) scale(1.000 1.040)" font-size="9.60" stroke="#000" stroke-width="0.25">c) C3</text>
<text transform="translate(154.70 365.20) scale(1.000 1.040)" font-size="9.60" text-anchor="middle" stroke="#000" stroke-width="0.25">snow</text>
<text transform="translate(266.60 365.00) scale(1.000 1.040)" font-size="9.60" text-anchor="end" stroke="#000" stroke-width="0.25">10<tspan font-size="6.2" dx="-0.5" dy="-3.9">5</tspan><tspan dy="3.9">km</tspan><tspan font-size="6.2" dy="-3.9">2</tspan></text>
<text transform="translate(154.70 515.10) scale(1.000 1.040)" font-size="9.80" text-anchor="middle" stroke="#000" stroke-width="0.25">year</text>
<text transform="translate(7.25 427.40) rotate(-90) scale(0.990 1.050)" font-size="9.80" text-anchor="middle" stroke="#000" stroke-width="0.25">differences of coverage</text>
<g clip-path="url(#cp5)">
<polyline fill="none" stroke="#707070" stroke-width="2.10" stroke-linejoin="round" stroke-linecap="round" points="339.6,436.3 339.9,436.7 341.7,438.6 343.6,442.9 344.8,449.1 346.0,458.4 346.9,466.4 348.5,467.6 350.1,469.5 351.4,472.6 352.6,475.7 353.8,455.9 355.1,462.1 356.6,473.8 358.0,474.4 359.3,475.1 360.9,477.5 362.7,477.2 364.0,476.9 365.5,480.6 367.1,480.0 368.7,480.0 370.4,464.5 371.7,470.7 373.3,472.0 374.5,474.4 375.7,477.5 377.0,480.0 378.8,480.0 380.1,474.4 381.5,467.0 382.8,468.9 383.8,473.8 385.6,473.8 387.5,472.6 389.0,467.6 390.6,463.9 391.8,467.6 393.4,462.1 395.0,464.5 396.5,462.5 398.5,458.5 400.2,457.4 402.0,459.1 403.3,449.6 404.6,439.1 406.3,435.3 408.0,432.5 410.7,432.2 412.4,429.6 414.1,427.0 415.5,428.7 416.7,421.7 418.5,425.6 420.2,420.3 422.0,420.3 423.7,423.5 425.4,413.0 427.2,409.2 428.4,412.2 429.8,407.8 431.5,403.5 433.3,405.2"/>
<polyline fill="none" stroke="#0000ff" stroke-width="1.80" stroke-linejoin="round" stroke-linecap="round" points="433.9,404.9 435.3,406.8 436.8,411.6 438.2,420.3 439.2,412.6 440.1,401.0 441.6,402.9 443.0,406.8 444.5,402.9 445.9,403.9 447.9,396.6 449.1,401.0 450.8,405.8 452.7,396.2 454.2,399.1 456.1,387.0 457.5,388.4 459.0,393.3 460.4,395.7 462.4,399.1 463.8,406.8 465.0,412.6 466.2,410.6 467.9,405.8 469.4,397.1 470.8,391.8 472.3,395.2 474.2,402.9 475.7,395.7 477.1,392.8 478.1,400.0 479.5,378.8 480.7,382.6 481.9,388.9 483.4,394.7 485.3,393.3 487.7,386.5 489.2,391.3 490.6,401.0 492.1,408.7 493.5,416.0 495.5,416.4 496.9,416.0 498.9,417.4 500.2,412.3 502.3,405.9 504.6,411.7 506.4,398.9 508.7,390.2 510.4,393.1 512.8,397.8 515.1,403.6 517.4,412.9 519.2,405.9 520.9,401.3 523.2,408.2 525.0,414.0 526.7,416.3 529.0,397.8 530.8,414.0 532.5,415.2 534.8,416.3 537.1,407.1 539.5,410.0 541.8,411.7 543.5,405.9 545.9,390.2 547.6,401.3 549.3,412.9 551.7,413.4 553.4,423.3 555.7,424.5 558.0,431.4 559.8,430.8 561.5,427.4"/>
<polyline fill="none" stroke="#ff0000" stroke-width="1.80" stroke-linejoin="round" stroke-linecap="round" points="433.4,403.9 434.8,396.6 435.8,398.1 437.2,403.9 439.2,410.2 440.1,405.8 441.1,401.0 442.1,403.9 443.0,412.6 444.5,413.5 445.9,417.4 446.9,414.5 447.9,410.6 449.3,415.5 450.8,405.8 452.0,410.6 453.7,418.4 455.1,415.5 456.6,409.7 458.0,414.5 460.0,405.8 461.1,408.2 462.9,414.5 464.3,414.5 466.0,414.5 467.0,405.8 468.1,396.6 469.4,401.0 470.8,412.6 472.6,416.0 474.2,407.7 475.7,410.6 477.6,418.4 479.5,419.3 481.0,417.9 482.9,421.3 484.4,403.9 485.8,400.0 487.3,397.1 489.2,403.9 491.1,414.5 492.6,416.4 493.5,391.3 494.2,382.6 495.0,396.2 496.1,409.7 497.9,415.5 499.8,420.3 501.7,420.5 503.4,415.0 504.9,413.5 507.0,405.9 508.7,405.3 510.4,407.6 512.2,415.2 513.9,412.9 515.7,418.7 517.4,414.0 519.2,402.4 520.9,401.3 523.2,414.0 525.5,396.0 527.3,404.7 529.0,415.2 531.3,423.3 533.1,426.2 534.8,415.2 537.1,425.6 538.9,411.7 540.6,418.7 542.4,412.9 544.1,422.1 545.9,430.3 547.4,437.2 548.8,427.9 550.5,419.8 552.2,427.9 554.0,429.1 555.7,423.3 558.0,422.1 559.8,423.9 561.5,425.1"/>
<polyline fill="none" stroke="#008a00" stroke-width="1.80" stroke-linejoin="round" stroke-linecap="round" points="433.9,407.7 435.8,408.7 437.7,408.2 439.7,409.2 441.1,402.0 442.4,405.8 444.0,406.3 445.5,406.8 447.4,407.7 448.8,408.7 450.3,403.9 451.7,402.9 453.2,400.0 454.6,398.1 456.6,397.1 458.0,394.2 459.5,390.4 460.7,395.2 462.4,398.1 464.0,394.2 465.3,386.5 466.2,380.5 467.4,382.6 468.9,387.5 470.3,389.4 472.3,388.4 474.2,389.4 476.1,388.9 478.1,390.4 479.5,394.2 481.5,394.7 482.9,397.6 484.8,397.1 486.8,395.2 488.7,398.6 490.2,403.9 491.6,402.0 493.5,405.3 495.0,407.3 496.4,405.3 497.7,398.1 499.3,403.9 501.3,394.2 502.5,391.0 504.4,401.0 506.8,403.0 509.3,402.4 511.0,398.3 512.8,402.4 514.5,404.2 516.0,395.4 517.4,408.2 519.2,412.9 520.9,401.8 522.6,415.2 524.4,416.3 526.1,403.6 527.3,401.8 529.0,417.5 530.8,421.0 532.5,423.3 534.2,424.5 536.0,419.8 537.7,423.3 539.5,426.8 541.8,430.8 543.5,423.3 545.3,426.8 547.0,422.1 548.8,412.9 550.5,421.0 552.2,429.1 554.0,425.6 555.2,434.5 556.5,439.6 557.7,443.3 558.9,446.1 560.1,447.6 561.8,449.2"/>
<line x1="339.20" y1="386.00" x2="562.10" y2="386.00" stroke="#000" stroke-width="1.25"/>
</g>
<rect x="339.20" y="371.40" width="222.90" height="111.90" fill="none" stroke="#000" stroke-width="1.25"/>
<path d="M339.20 483.30v3.20M339.20 371.40v-3.20M347.46 483.30v3.20M347.46 371.40v-3.20M355.71 483.30v3.20M355.71 371.40v-3.20M363.97 483.30v6.00M363.97 371.40v-6.00M372.22 483.30v3.20M372.22 371.40v-3.20M380.48 483.30v3.20M380.48 371.40v-3.20M388.73 483.30v3.20M388.73 371.40v-3.20M396.99 483.30v6.00M396.99 371.40v-6.00M405.24 483.30v3.20M405.24 371.40v-3.20M413.50 483.30v3.20M413.50 371.40v-3.20M421.76 483.30v3.20M421.76 371.40v-3.20M430.01 483.30v6.00M430.01 371.40v-6.00M438.27 483.30v3.20M438.27 371.40v-3.20M446.52 483.30v3.20M446.52 371.40v-3.20M454.78 483.30v3.20M454.78 371.40v-3.20M463.03 483.30v6.00M463.03 371.40v-6.00M471.29 483.30v3.20M471.29 371.40v-3.20M479.54 483.30v3.20M479.54 371.40v-3.20M487.80 483.30v3.20M487.80 371.40v-3.20M496.06 483.30v6.00M496.06 371.40v-6.00M504.31 483.30v3.20M504.31 371.40v-3.20M512.57 483.30v3.20M512.57 371.40v-3.20M520.82 483.30v3.20M520.82 371.40v-3.20M529.08 483.30v6.00M529.08 371.40v-6.00M537.33 483.30v3.20M537.33 371.40v-3.20M545.59 483.30v3.20M545.59 371.40v-3.20M553.84 483.30v3.20M553.84 371.40v-3.20M562.10 483.30v6.00M562.10 371.40v-6.00M339.20 483.30h-6.00M562.10 483.30h6.00M339.20 478.43h-3.20M562.10 478.43h3.20M339.20 473.57h-3.20M562.10 473.57h3.20M339.20 468.70h-3.20M562.10 468.70h3.20M339.20 463.84h-6.00M562.10 463.84h6.00M339.20 458.97h-3.20M562.10 458.97h3.20M339.20 454.11h-3.20M562.10 454.11h3.20M339.20 449.24h-3.20M562.10 449.24h3.20M339.20 444.38h-6.00M562.10 444.38h6.00M339.20 439.51h-3.20M562.10 439.51h3.20M339.20 434.65h-3.20M562.10 434.65h3.20M339.20 429.78h-3.20M562.10 429.78h3.20M339.20 424.92h-6.00M562.10 424.92h6.00M339.20 420.05h-3.20M562.10 420.05h3.20M339.20 415.19h-3.20M562.10 415.19h3.20M339.20 410.32h-3.20M562.10 410.32h3.20M339.20 405.46h-6.00M562.10 405.46h6.00M339.20 400.59h-3.20M562.10 400.59h3.20M339.20 395.73h-3.20M562.10 395.73h3.20M339.20 390.86h-3.20M562.10 390.86h3.20M339.20 386.00h-6.00M562.10 386.00h6.00M339.20 381.13h-3.20M562.10 381.13h3.20M339.20 376.27h-3.20M562.10 376.27h3.20M339.20 371.40h-3.20M562.10 371.40h3.20" stroke="#000" stroke-width="1.10" fill="none"/>
<text transform="translate(363.97 503.30) scale(1.000 1.040)" font-size="9.60" text-anchor="middle" stroke="#000" stroke-width="0.25">1980</text>
<text transform="translate(396.99 503.30) scale(1.000 1.040)" font-size="9.60" text-anchor="middle" stroke="#000" stroke-width="0.25">2000</text>
<text transform="translate(430.01 503.30) scale(1.000 1.040)" font-size="9.60" text-anchor="middle" stroke="#000" stroke-width="0.25">2020</text>
<text transform="translate(463.03 503.30) scale(1.000 1.040)" font-size="9.60" text-anchor="middle" stroke="#000" stroke-width="0.25">2040</text>
<text transform="translate(496.06 503.30) scale(1.000 1.040)" font-size="9.60" text-anchor="middle" stroke="#000" stroke-width="0.25">2060</text>
<text transform="translate(529.08 503.30) scale(1.000 1.040)" font-size="9.60" text-anchor="middle" stroke="#000" stroke-width="0.25">2080</text>
<text transform="translate(562.10 503.30) scale(1.000 1.040)" font-size="9.60" text-anchor="middle" stroke="#000" stroke-width="0.25">2100</text>
<text transform="translate(326.80 389.58) scale(1.000 1.040)" font-size="9.60" text-anchor="end" stroke="#000" stroke-width="0.25">0.0</text>
<text transform="translate(326.80 409.04) scale(1.000 1.040)" font-size="9.60" text-anchor="end" stroke="#000" stroke-width="0.25">-0.4</text>
<text transform="translate(326.80 428.50) scale(1.000 1.040)" font-size="9.60" text-anchor="end" stroke="#000" stroke-width="0.25">-0.8</text>
<text transform="translate(326.80 447.96) scale(1.000 1.040)" font-size="9.60" text-anchor="end" stroke="#000" stroke-width="0.25">-1.2</text>
<text transform="translate(326.80 467.42) scale(1.000 1.040)" font-size="9.60" text-anchor="end" stroke="#000" stroke-width="0.25">-1.6</text>
<text transform="translate(326.80 486.88) scale(1.000 1.040)" font-size="9.60" text-anchor="end" stroke="#000" stroke-width="0.25">-2.0</text>
<text transform="translate(338.60 363.50) scale(1.000 1.040)" font-size="9.60" stroke="#000" stroke-width="0.25">f) C3</text>
<text transform="translate(450.65 363.20) scale(1.000 1.040)" font-size="9.60" text-anchor="middle" stroke="#000" stroke-width="0.25">canopy</text>
<text transform="translate(562.40 364.90) scale(1.000 1.040)" font-size="9.60" text-anchor="end" stroke="#000" stroke-width="0.25">10<tspan font-size="6.2" dx="-0.5" dy="-3.9">5</tspan><tspan dy="3.9">km</tspan><tspan font-size="6.2" dy="-3.9">2</tspan></text>
<text transform="translate(450.65 515.10) scale(1.000 1.040)" font-size="9.80" text-anchor="middle" stroke="#000" stroke-width="0.25">year</text>
<text transform="translate(303.00 427.35) rotate(-90) scale(0.990 1.050)" font-size="9.80" text-anchor="middle" stroke="#000" stroke-width="0.25">differences of coverage</text>
<rect x="559.2" y="448.4" width="2.2" height="3.6" fill="#888"/>
<line x1="507.9" y1="448.8" x2="523.7" y2="448.8" stroke="#707070" stroke-width="1.80"/>
<text transform="translate(523.50 452.34) scale(1.000 1.040)" font-size="9.60" stroke="#000" stroke-width="0.25">historica</text>
<line x1="507.9" y1="458.9" x2="523.7" y2="458.9" stroke="#008a00" stroke-width="1.80"/>
<text transform="translate(523.50 462.44) scale(1.000 1.040)" font-size="9.60" stroke="#000" stroke-width="0.25">RCP8.5</text>
<line x1="507.9" y1="468.9" x2="523.7" y2="468.9" stroke="#ff0000" stroke-width="1.80"/>
<text transform="translate(523.50 472.44) scale(1.000 1.040)" font-size="9.60" stroke="#000" stroke-width="0.25">RCP4.5</text>
<line x1="507.9" y1="478.7" x2="523.7" y2="478.7" stroke="#0000ff" stroke-width="1.80"/>
<text transform="translate(523.50 482.24) scale(1.000 1.040)" font-size="9.60" stroke="#000" stroke-width="0.25">RCP2.6</text>
</g></svg></body></html>
